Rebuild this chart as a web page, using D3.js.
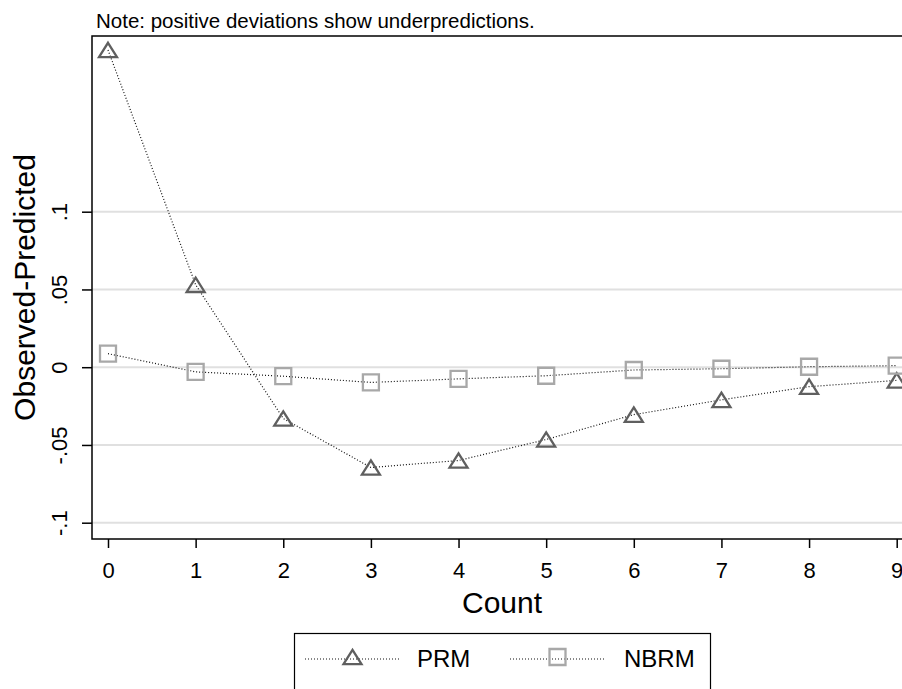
<!DOCTYPE html>
<html>
<head>
<meta charset="utf-8">
<script src="https://cdn.jsdelivr.net/npm/d3@7"></script>
<style>
	body { margin: 0; background: white; }
	text { font-family: "Liberation Sans", Arial, sans-serif; }
</style>
</head>
<body>
<svg id="chart"></svg>
<script>
let width = 902;
let height = 689;

const counts = [0, 1, 2, 3, 4, 5, 6, 7, 8, 9];
const prm = [0.204, 0.053, -0.033, -0.0645, -0.060, -0.0465, -0.0305, -0.021, -0.0125, -0.0085];
const nbrm = [0.0087, -0.003, -0.0058, -0.0098, -0.0075, -0.0055, -0.0018, -0.001, 0.0003, 0.001];
const yTicks = [-0.1, -0.05, 0, 0.05, 0.1];
const yTickLabels = ["-.1", "-.05", "0", ".05", ".1"];

const plot = { left: 92, top: 36, right: 912, bottom: 539 };
const fontStack = "Liberation Sans, Arial, sans-serif";

const svg = d3.select("#chart").attr("width", width).attr("height", height);

const x = d3.scaleLinear().domain([0, 9]).range([108, 896.7]);
const y = d3.scaleLinear().domain([-0.1, 0.1]).range([522.7, 211.7]);

// grid lines
svg.append("g")
	.selectAll("line")
	.data(yTicks)
	.enter()
	.append("line")
	.attr("x1", plot.left)
	.attr("x2", plot.right)
	.attr("y1", (d) => y(d))
	.attr("y2", (d) => y(d))
	.style("stroke", "#e0e0e0")
	.style("stroke-width", 2);

// plot region outline
svg.append("rect")
	.attr("x", plot.left)
	.attr("y", plot.top)
	.attr("width", plot.right - plot.left)
	.attr("height", plot.bottom - plot.top)
	.attr("fill", "none")
	.style("stroke", "#000")
	.style("stroke-width", 1.5);

// y axis
const yAxis = svg.append("g")
	.attr("transform", `translate(${plot.left},0)`)
	.call(d3.axisLeft(y).tickValues(yTicks).tickSize(10).tickFormat((d, i) => yTickLabels[i]));
yAxis.select(".domain").remove();
yAxis.selectAll(".tick line").style("stroke", "#000").style("stroke-width", 1.5);
yAxis.selectAll(".tick text")
	.attr("transform", "rotate(-90)")
	.attr("x", 0)
	.attr("y", -25.5)
	.attr("dy", null)
	.style("text-anchor", "middle")
	.style("font-size", "22px")
	.style("font-family", fontStack)
	.style("fill", "#000");

// x axis
const xAxis = svg.append("g")
	.attr("transform", `translate(0,${plot.bottom})`)
	.call(d3.axisBottom(x).tickValues(counts).tickSize(9).tickFormat(d3.format("d")));
xAxis.select(".domain").remove();
xAxis.selectAll(".tick line").style("stroke", "#000").style("stroke-width", 1.5);
xAxis.selectAll(".tick text")
	.attr("y", 39.3)
	.attr("dy", null)
	.style("font-size", "22px")
	.style("font-family", fontStack)
	.style("fill", "#000");

// axis titles
svg.append("text")
	.attr("x", 502)
	.attr("y", 613)
	.attr("text-anchor", "middle")
	.style("font-size", "30px")
	.text("Count");

svg.append("text")
	.attr("transform", `translate(35,${(plot.top + plot.bottom) / 2}) rotate(-90)`)
	.attr("text-anchor", "middle")
	.style("font-size", "30px")
	.text("Observed-Predicted");

svg.append("text")
	.attr("x", 96)
	.attr("y", 28)
	.style("font-size", "20.5px")
	.text("Note: positive deviations show underpredictions.");

// markers: hollow triangle centred on its box, hollow square
const flatTriangle = {
	draw(ctx, size) {
		const w = Math.sqrt(size);
		const h = w * 0.8;
		ctx.moveTo(0, -h / 2);
		ctx.lineTo(w / 2, h / 2);
		ctx.lineTo(-w / 2, h / 2);
		ctx.closePath();
	},
};
const triangle = d3.symbol().type(flatTriangle).size(18 * 18);
const square = d3.symbol().type(d3.symbolSquare).size(16 * 16);

const line = d3.line()
	.x((d, i) => x(counts[i]))
	.y((d) => y(d));

const series = [
	{ name: "PRM", values: prm, symbol: triangle, color: "#5f5f5f" },
	{ name: "NBRM", values: nbrm, symbol: square, color: "#a8a8a8" },
];

svg.append("clipPath").attr("id", "clip")
	.append("rect")
	.attr("x", plot.left).attr("y", plot.top)
	.attr("width", plot.right - plot.left).attr("height", plot.bottom - plot.top);

const dataGroup = svg.append("g").attr("clip-path", "url(#clip)");

series.forEach((s) => {
	dataGroup.append("path")
		.datum(s.values)
		.attr("d", line)
		.attr("fill", "none")
		.style("stroke", "#111")
		.style("stroke-width", 1.2)
		.style("stroke-dasharray", "1,2");
});

series.forEach((s) => {
	dataGroup.append("g")
		.selectAll("path")
		.data(s.values)
		.enter()
		.append("path")
		.attr("d", s.symbol)
		.attr("transform", (d, i) => `translate(${x(counts[i])},${y(d)})`)
		.attr("fill", "none")
		.style("stroke", s.color)
		.style("stroke-width", 2.3);
});

// legend
const legend = svg.append("g");
legend.append("rect")
	.attr("x", 294.5)
	.attr("y", 633.5)
	.attr("width", 416)
	.attr("height", 80)
	.attr("fill", "none")
	.style("stroke", "#000")
	.style("stroke-width", 1.2);

const legendItems = [
	{ s: series[0], x0: 305, x1: 400, tx: 417 },
	{ s: series[1], x0: 510, x1: 605, tx: 624 },
];
legendItems.forEach((it) => {
	legend.append("line")
		.attr("x1", it.x0).attr("x2", it.x1)
		.attr("y1", 659).attr("y2", 659)
		.style("stroke", "#111")
		.style("stroke-width", 1.2)
		.style("stroke-dasharray", "1,2");
	legend.append("path")
		.attr("d", it.s.symbol)
		.attr("transform", `translate(${(it.x0 + it.x1) / 2},${657})`)
		.attr("fill", "none")
		.style("stroke", it.s.color)
		.style("stroke-width", 2.3);
	legend.append("text")
		.attr("x", it.tx)
		.attr("y", 667)
		.style("font-size", "24px")
		.text(it.s.name);
});
</script>
</body>
</html>
